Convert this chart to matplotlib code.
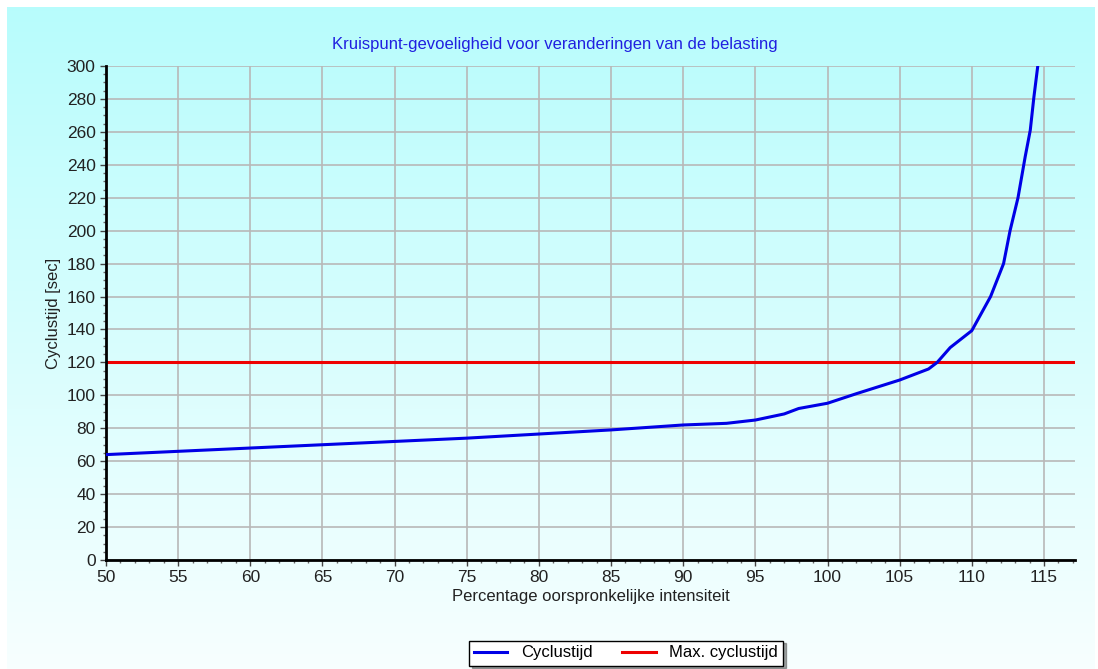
import numpy as np
import matplotlib.pyplot as plt
from matplotlib.ticker import MultipleLocator

plt.rcParams['font.family'] = ['Liberation Sans', 'DejaVu Sans']

# data
pct = [50, 55, 60, 65, 70, 75, 80, 85, 90, 93, 95, 97, 98, 100, 102, 105, 107,
       107.6, 108.5, 110, 111.3, 112.2, 112.65, 113.2, 113.7, 114.05, 114.3, 114.57]
cyclus = [64, 66, 68, 70, 72, 74, 76.5, 79, 82, 83, 85, 88.7, 92, 95.2, 101, 109.3, 116,
          120, 129, 139.3, 160, 180, 200, 220, 245, 261, 281, 300]
max_cyclus = 120

title = 'Kruispunt-gevoeligheid voor veranderingen van de belasting'
xlabel = 'Percentage oorspronkelijke intensiteit'
ylabel = 'Cyclustijd [sec]'

fig = plt.figure(figsize=(10.98, 6.69), dpi=100)

# gradient background panel
bg = fig.add_axes([0.006, 0.0, 0.99, 0.99], zorder=-10)
grad = np.linspace(0, 1, 256).reshape(-1, 1)
top = np.array([0.72, 0.99, 0.99])
bottom = np.array([0.97, 1.0, 1.0])
img = top + (bottom - top) * grad[:, :, None]
bg.imshow(img, aspect='auto', extent=[0, 1, 0, 1])
bg.axis('off')

ax = fig.add_axes([106 / 1098, 1 - 560 / 669, (1075 - 106) / 1098, (560 - 66) / 669])
ax.patch.set_alpha(0)

ax.plot(pct, cyclus, color='#0000e6', lw=2.2, label='Cyclustijd', zorder=3)
ax.axhline(max_cyclus, color='#ee0000', lw=2.2, label='Max. cyclustijd', zorder=2)

ax.set_xlim(50, 117.15)
ax.set_ylim(0, 300)
ax.xaxis.set_major_locator(MultipleLocator(5))
ax.xaxis.set_minor_locator(MultipleLocator(1))
ax.yaxis.set_major_locator(MultipleLocator(20))
ax.yaxis.set_minor_locator(MultipleLocator(5))
ax.grid(True, which='major', color='#b8b8b8', lw=1.2, zorder=0)
ax.set_axisbelow(True)

for s in ['top', 'right']:
    ax.spines[s].set_visible(False)
for s in ['left', 'bottom']:
    ax.spines[s].set_linewidth(2)
    ax.spines[s].set_color('black')

ax.tick_params(which='major', length=4, width=1, color='#444444', labelsize=12.5,
               labelcolor='#222222')
ax.tick_params(which='minor', length=2, width=1, color='#666666')
ax.tick_params(axis='x', pad=3)

fig.text(555 / 1098, 1 - 44 / 669, title, color='#2020e0', fontsize=12,
         ha='center', va='center')
ax.set_xlabel(xlabel, fontsize=12, color='#222222', labelpad=3)
ax.set_ylabel(ylabel, fontsize=12, color='#222222', labelpad=4)

leg = ax.legend(loc='center', bbox_to_anchor=(626 / 1098, 1 - 653 / 669),
                bbox_transform=fig.transFigure, ncol=2, fancybox=False,
                edgecolor='black', framealpha=1, fontsize=12, shadow=True,
                handlelength=2.0, columnspacing=1.8, borderpad=0.3)
leg.get_frame().set_linewidth(1)

fig.savefig('out.png', dpi=100)
